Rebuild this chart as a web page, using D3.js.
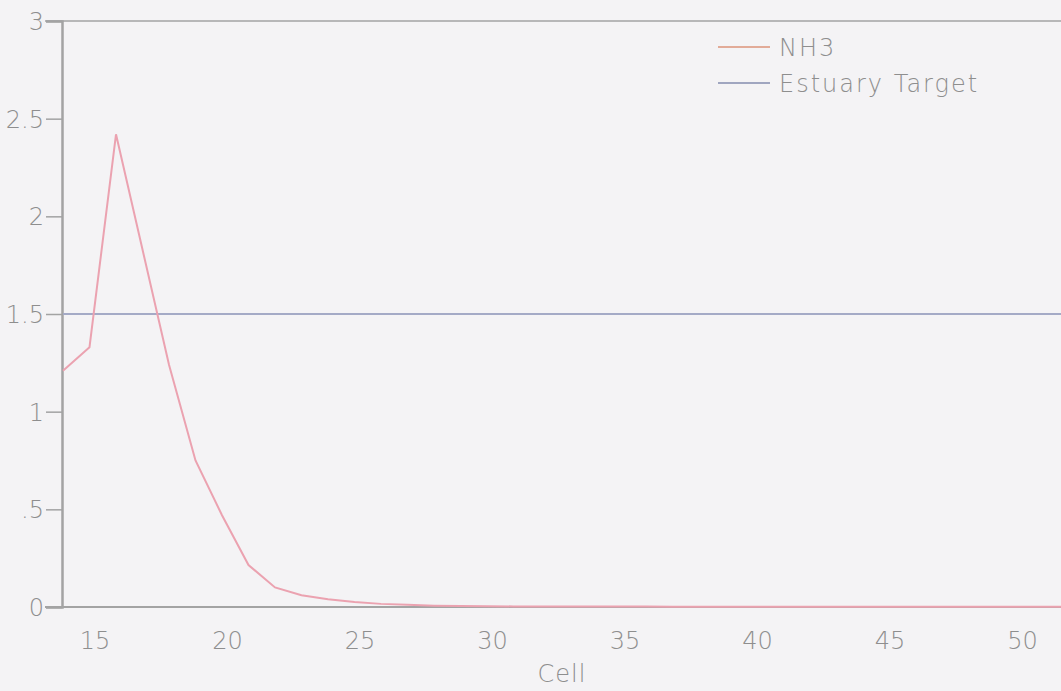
<!DOCTYPE html>
<html><head><meta charset="utf-8">
<script src="https://cdn.jsdelivr.net/npm/d3@7"></script>
<style>
html,body{margin:0;padding:0;background:#f4f3f5;overflow:hidden}
text{font-family:"DejaVu Sans",sans-serif;font-stretch:condensed;font-weight:200;fill:#8e8e8e}
</style></head>
<body>
<svg id="c" width="1061" height="691"></svg>
<script>
const cells = [14,15,16,17,18,19,20,21,22,23,24,25,26,27,28,29,30,31,32,33,34,35,36,37,38,39,40,41,42,43,44,45,46,47,48,49,50,51,52];
const nh3 = [1.21,1.33,2.42,1.83,1.24,0.75,0.47,0.215,0.10,0.06,0.04,0.025,0.016,0.011,0.007,0.005,0.004,0.003,0.003,0.002,0.002,0.002,0.002,0.001,0.001,0.001,0.001,0.001,0.001,0.001,0.001,0.001,0.001,0.001,0.001,0.001,0.001,0.001,0.001];
const target = 1.5;
const xTicks = [15,20,25,30,35,40,45,50];
const yTicks = [0,0.5,1,1.5,2,2.5,3];
const yTickLabels = ["0",".5","1","1.5","2","2.5","3"];
const seriesNames = ["NH3","Estuary Target"];

const svg = d3.select("#c");
const x = d3.scaleLinear().domain([14,51.66]).range([63,1061]);
const y = d3.scaleLinear().domain([0,3]).range([607,21]);
const axisColor = "#a3a3a3";

// top border
svg.append("line").attr("x1",45).attr("x2",1061).attr("y1",y(3)).attr("y2",y(3))
  .attr("stroke",axisColor).attr("stroke-width",1.5);

// y axis
const ya = svg.append("g").attr("transform","translate(62,0)")
  .call(d3.axisLeft(y).tickValues(yTicks).tickFormat((d,i)=>yTickLabels[i]).tickSize(16).tickPadding(2));
ya.select(".domain").attr("stroke",axisColor).attr("stroke-width",2.5);
ya.selectAll(".tick line").attr("stroke",axisColor).attr("stroke-width",1.5);
ya.selectAll(".tick text").style("font-size","24px").attr("dy","0.36em");

// x axis
const xa = svg.append("g").attr("transform","translate(0,607)")
  .call(d3.axisBottom(x).tickValues(xTicks).tickSize(0).tickPadding(25));
xa.select(".domain").remove();
xa.selectAll(".tick text").style("font-size","24px").attr("dx","5");
svg.append("line").attr("x1",45).attr("x2",1061).attr("y1",607).attr("y2",607)
  .attr("stroke",axisColor).attr("stroke-width",1.8);

svg.append("text").attr("x",562).attr("y",682).attr("text-anchor","middle")
  .style("font-size","24px").style("letter-spacing","1px").text("Cell");

// target line
svg.append("line").attr("x1",x(14)).attr("x2",1061).attr("y1",y(target)).attr("y2",y(target))
  .attr("stroke","#a4aac6").attr("stroke-width",2);

// NH3 line
svg.append("path").datum(cells.map((c,i)=>[c,nh3[i]]))
  .attr("fill","none").attr("stroke","#eba2b0").attr("stroke-width",2)
  .attr("d",d3.line().x(d=>x(d[0])).y(d=>y(d[1])));

// legend
const leg = [{n:seriesNames[0],c:"#e2ab98",y:47},{n:seriesNames[1],c:"#a0a6c0",y:83}];
leg.forEach(l=>{
  svg.append("line").attr("x1",718).attr("x2",770).attr("y1",l.y).attr("y2",l.y)
    .attr("stroke",l.c).attr("stroke-width",1.8);
  svg.append("text").attr("x",779).attr("y",l.y).attr("dy","0.36em")
    .style("font-size","24px").style("letter-spacing","2px").text(l.n);
});
</script>
</body></html>
